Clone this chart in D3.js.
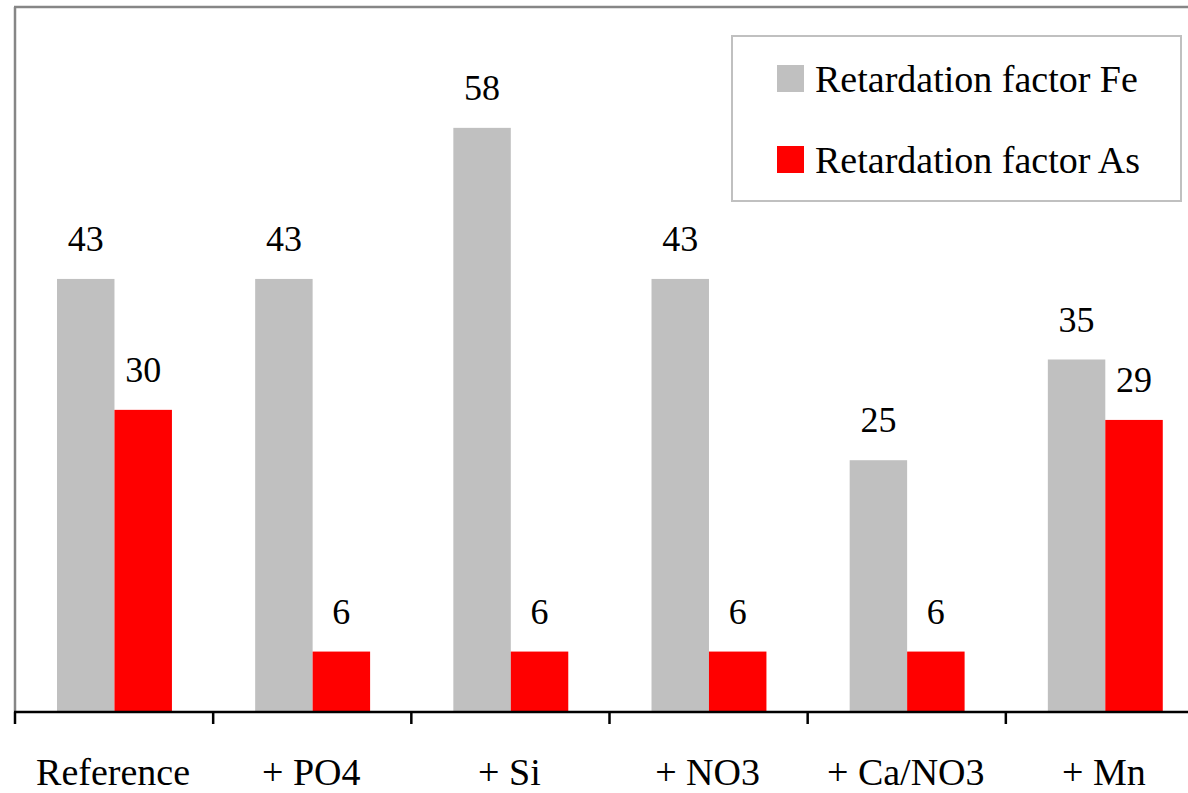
<!DOCTYPE html>
<html>
<head>
<meta charset="utf-8">
<script src="https://cdn.jsdelivr.net/npm/d3@7"></script>
<style>
  html, body { margin: 0; padding: 0; background: #fff; }
  svg { display: block; }
</style>
</head>
<body>
<svg id="chart" width="1188" height="793"></svg>
<script>
// Treatments along the x axis
const categories = ["Reference", "+ PO4", "+ Si", "+ NO3", "+ Ca/NO3", "+ Mn"];
// Series names and their values per treatment
const seriesNames = ["Retardation factor Fe", "Retardation factor As"];
const feValues = [43, 43, 58, 43, 25, 35];
const asValues = [30, 6, 6, 6, 6, 29];
const seriesColors = ["#c0c0c0", "#ff0000"];

const FONT = "'Liberation Serif'";

const rows = categories.map((c, i) => ({ cat: c, values: [feValues[i], asValues[i]] }));

const svg = d3.select("#chart");
const W = 1188;

const plot = { left: 14, top: 7, bottom: 712, right: 1203 };

const x0 = d3.scaleBand().domain(categories).range([plot.left, plot.right]).padding(0);
const x1 = d3.scaleBand().domain(d3.range(seriesNames.length))
  .range([x0.bandwidth() * 0.217, x0.bandwidth() * 0.797]).padding(0);
const y = d3.scaleLinear().domain([0, 70]).range([plot.bottom, plot.top]);

// plot-area frame (top and left edges)
svg.append("line").attr("x1", plot.left).attr("x2", W).attr("y1", plot.top).attr("y2", plot.top)
  .attr("stroke", "#868686").attr("stroke-width", 2.5);
svg.append("line").attr("x1", plot.left + 1).attr("x2", plot.left + 1).attr("y1", plot.top).attr("y2", plot.bottom)
  .attr("stroke", "#868686").attr("stroke-width", 2.5);

// bars
const groups = svg.append("g").selectAll("g").data(rows).join("g")
  .attr("transform", d => `translate(${x0(d.cat)},0)`);

groups.selectAll("rect").data(d => d.values.map((v, k) => ({ v, k }))).join("rect")
  .attr("x", d => x1(d.k))
  .attr("width", x1.bandwidth())
  .attr("y", d => y(d.v))
  .attr("height", d => y(0) - y(d.v))
  .attr("fill", d => seriesColors[d.k]);

// value labels above bars
groups.selectAll("text.val").data(d => d.values.map((v, k) => ({ v, k }))).join("text")
  .attr("class", "val")
  .attr("x", d => x1(d.k) + x1.bandwidth() / 2)
  .attr("y", d => y(d.v) - 28)
  .attr("text-anchor", "middle")
  .style("font-family", FONT)
  .style("font-size", "36px")
  .attr("fill", "#000")
  .text(d => d.v);

// x axis labels
const xAxis = d3.axisBottom(x0).tickSize(0).tickFormat(d => d);
const ax = svg.append("g").attr("transform", `translate(0,${plot.bottom})`).call(xAxis);
ax.attr("font-family", null).attr("font-size", null);
ax.select(".domain").remove();
ax.selectAll("text").attr("dy", null).attr("y", 73)
  .style("font-size", "38px").style("font-family", FONT).attr("fill", "#000");

svg.append("line").attr("x1", plot.left).attr("x2", W).attr("y1", plot.bottom).attr("y2", plot.bottom)
  .attr("stroke", "#000").attr("stroke-width", 2.5);
// tick marks at group boundaries
const boundaries = categories.map(c => x0(c));
svg.append("g").selectAll("line").data(boundaries).join("line")
  .attr("x1", d => d + 1).attr("x2", d => d + 1)
  .attr("y1", plot.bottom).attr("y2", plot.bottom + 12)
  .attr("stroke", "#000").attr("stroke-width", 2.5);

// legend
const lg = svg.append("g");
lg.append("rect").attr("x", 732).attr("y", 36).attr("width", 449).attr("height", 165)
  .attr("fill", "#fff").attr("stroke", "#c0c0c0").attr("stroke-width", 2);
seriesNames.forEach((name, k) => {
  const yy = 65 + k * 81;
  lg.append("rect").attr("x", 777).attr("y", yy).attr("width", 27).attr("height", 27)
    .attr("fill", seriesColors[k]);
  lg.append("text").attr("x", 815).attr("y", yy + 27)
    .style("font-family", FONT).style("font-size", "38px").attr("fill", "#000").text(name);
});
</script>
</body>
</html>
